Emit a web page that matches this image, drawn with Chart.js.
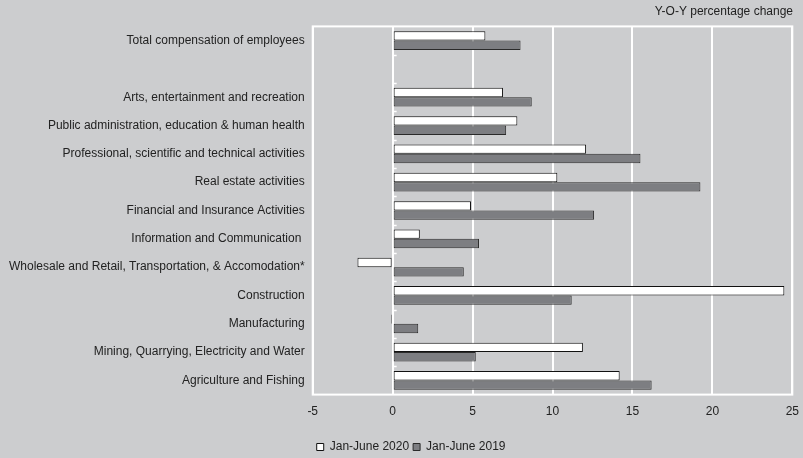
<!DOCTYPE html>
<html>
<head>
<meta charset="utf-8">
<script src="https://cdn.jsdelivr.net/npm/chart.js@4"></script>
<style>
    html, body { margin: 0; padding: 0; background: #cccdcf; }
    #wrap { width: 803px; height: 458px; position: relative; }
</style>
</head>
<body>
<div id="wrap"><canvas id="chartSectores"></canvas></div>
<script>
// Sectores (de arriba hacia abajo)
const categorias = [
    'Total compensation of employees',
    '',
    'Arts, entertainment and recreation',
    'Public administration, education & human health',
    'Professional, scientific and technical activities',
    'Real estate activities',
    'Financial and Insurance Activities',
    'Information and Communication ',
    'Wholesale and Retail, Transportation, & Accomodation*',
    'Construction',
    'Manufacturing',
    'Mining, Quarrying, Electricity and Water',
    'Agriculture and Fishing'
];

// Variación interanual (%)
const valores2020 = [5.8, null, 6.9, 7.8, 12.1, 10.3, 4.9, 1.7, -2.2, 24.5, -0.1, 11.9, 14.2];
const valores2019 = [8.0, null, 8.7, 7.1, 15.5, 19.25, 12.6, 5.4, 4.45, 11.2, 1.6, 5.2, 16.2];

const ticksX = [-5, 0, 5, 10, 15, 20, 25];

const fuente = { family: 'Liberation Sans, Arial', size: 12 };

// Marco blanco y marcas pequeñas sobre la línea del cero
const marcoPlugin = {
    id: 'marco',
    afterDraw(chart) {
        const a = chart.chartArea;
        const ctx = chart.ctx;
        const xs = chart.scales.x;
        ctx.save();
        ctx.strokeStyle = '#ffffff';
        ctx.lineWidth = 2;
        ctx.strokeRect(a.left, a.top, a.right - a.left, a.bottom - a.top);
        const x0 = xs.getPixelForValue(0);
        const paso = (a.bottom - a.top) / categorias.length;
        ctx.lineWidth = 1.5;
        ctx.beginPath();
        for (let i = 1; i < categorias.length; i++) {
            const y = Math.round(a.top + paso * i) + 0.5;
            ctx.moveTo(x0, y);
            ctx.lineTo(x0 + 4, y);
        }
        ctx.stroke();
        ctx.restore();
    }
};

document.addEventListener('DOMContentLoaded', function() {
    const ctx = document.getElementById('chartSectores');
    new Chart(ctx, {
        type: 'bar',
        data: {
            labels: categorias,
            datasets: [
                {
                    label: 'Jan-June 2020',
                    data: valores2020,
                    backgroundColor: '#ffffff',
                    borderColor: '#111111',
                    borderWidth: 1,
                    borderSkipped: false,
                    categoryPercentage: 0.66,
                    barPercentage: 1.0
                },
                {
                    label: 'Jan-June 2019',
                    data: valores2019,
                    backgroundColor: '#7d7e82',
                    borderColor: '#2a2a2a',
                    borderWidth: 1,
                    borderSkipped: false,
                    categoryPercentage: 0.66,
                    barPercentage: 1.0
                }
            ]
        },
        options: {
            indexAxis: 'y',
            responsive: true,
            maintainAspectRatio: false,
            animation: false,
            layout: { padding: { left: 0, right: 10, top: 0, bottom: -5 } },
            scales: {
                x: {
                    min: -5,
                    max: 25,
                    afterBuildTicks: function(axis) {
                        axis.ticks = ticksX.map(v => ({ value: v }));
                    },
                    afterFit: function(axis) {
                        axis.height += 8;
                    },
                    grid: { color: '#ffffff', lineWidth: 2, drawTicks: false },
                    border: { display: false },
                    ticks: {
                        color: '#222222',
                        font: fuente,
                        padding: 10
                    }
                },
                y: {
                    grid: { display: false, drawTicks: false },
                    border: { display: false },
                    afterFit: function(axis) {
                        axis.width += 1;
                    },
                    ticks: {
                        color: '#222222',
                        font: fuente,
                        padding: 8,
                        autoSkip: false
                    }
                }
            },
            plugins: {
                title: {
                    display: true,
                    text: 'Y-O-Y percentage change',
                    align: 'end',
                    color: '#222222',
                    font: { family: 'Liberation Sans, Arial', size: 12, weight: 'normal' },
                    padding: { top: 4, bottom: 8 }
                },
                legend: {
                    position: 'bottom',
                    align: 'start',
                    fullSize: false,
                    labels: {
                        boxWidth: 7,
                        boxHeight: 7,
                        color: '#222222',
                        padding: 4,
                        font: fuente
                    }
                },
                tooltip: { enabled: false }
            }
        },
        plugins: [marcoPlugin, {
            id: 'margenDerecho',
            beforeLayout(chart) {},
            afterLayout(chart) {
                // extender el área del gráfico hacia la derecha como en el original
                const extra = 6;
                chart.chartArea.right += extra;
                const xs = chart.scales.x;
                xs.right += extra;
                xs.width += extra;
                xs.configure();
            }
        }]
    });
});
</script>
</body>
</html>
